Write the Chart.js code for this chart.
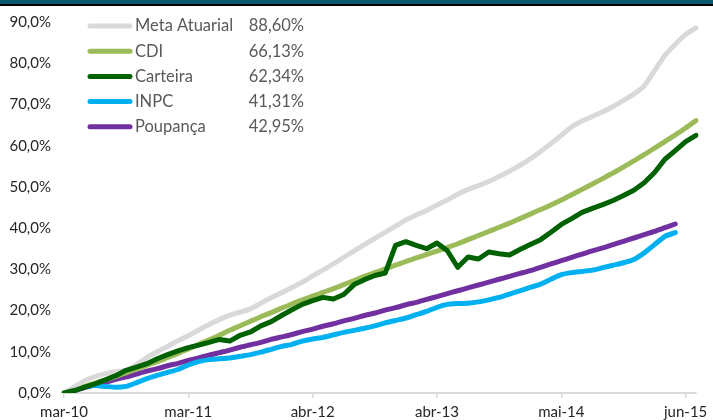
<!DOCTYPE html>
<html>
<head>
<meta charset="utf-8">
<script src="https://cdn.jsdelivr.net/npm/chart.js@4.4.1/dist/chart.umd.min.js"></script>
<style>
html, body { margin: 0; padding: 0; background: #fff; }
#wrap { position: relative; width: 713px; height: 420px; }
#topbar { position: absolute; left: 0; top: 0; width: 713px; height: 4px; background: #0b5a71; border-bottom: 2px solid #000; }
</style>
</head>
<body>
<div id="wrap">
  <canvas id="myChart" width="713" height="420"></canvas>
  <div id="topbar"></div>
</div>
<script>
// rótulos do eixo x (um a cada 12 pontos)
const tickLabels = ['mar-10', 'mar-11', 'abr-12', 'abr-13', 'mai-14', 'jun-15'];
const pointsPerTick = 12;

const seriesNames = ['Meta Atuarial', 'CDI', 'Carteira', 'INPC', 'Poupança'];
const finalReturns = ['88,60%', '66,13%', '62,34%', '41,31%', '42,95%'];
const seriesColors = ['#d9d9d9', '#9bbb59', '#006100', '#00b0f0', '#7030a0'];

// rentabilidade acumulada (%)
const metaAtuarial = [
  0, 1.5, 3.0, 4.0, 4.7, 5.2, 5.5, 6.9, 8.6, 10.0,
  11.3, 12.7, 13.9, 15.3, 16.6, 17.8, 18.9, 19.6, 20.4, 21.8,
  23.1, 24.3, 25.6, 26.9, 28.4, 29.8, 31.3, 32.9, 34.5, 36.0,
  37.5, 39.0, 40.5, 42.0, 43.2, 44.3, 45.6, 46.8, 48.2, 49.4,
  50.3, 51.3, 52.5, 53.8, 55.2, 56.8, 58.6, 60.5, 62.5, 64.6,
  66.0, 67.1, 68.2, 69.5, 71.0, 72.5, 74.5, 78.2, 81.9, 84.6,
  87.0, 88.6
];
const cdi = [
  0, 0.8, 1.6, 2.4, 3.2, 4.0, 4.9, 5.8, 6.7, 7.6,
  8.6, 9.6, 10.7, 11.8, 12.9, 14.0, 15.2, 16.3, 17.4, 18.5,
  19.5, 20.6, 21.6, 22.6, 23.5, 24.4, 25.3, 26.3, 27.3, 28.3,
  29.2, 30.1, 31.0, 31.9, 32.8, 33.6, 34.4, 35.3, 36.2, 37.2,
  38.2, 39.2, 40.2, 41.2, 42.3, 43.4, 44.5, 45.6, 46.8, 48.1,
  49.4, 50.7, 52.0, 53.4, 54.8, 56.3, 57.8, 59.4, 61.0, 62.6,
  64.3, 66.1
];
const carteira = [
  0, 0.6, 1.4, 2.2, 3.2, 4.2, 5.5, 6.3, 7.1, 8.3,
  9.3, 10.2, 11.0, 11.6, 12.3, 13.0, 12.6, 14.0, 14.8, 16.3,
  17.3, 18.8, 20.2, 21.5, 22.4, 23.2, 22.8, 23.9, 26.3, 27.5,
  28.5, 29.1, 35.8, 36.7, 35.8, 35.0, 36.4, 34.5, 30.5, 33.0,
  32.5, 34.2, 33.8, 33.5, 34.8, 36.0, 37.2, 39.0, 40.9, 42.3,
  43.8, 44.8, 45.7, 46.7, 47.9, 49.2, 51.0, 53.5, 56.7, 58.8,
  61.0, 62.5
];
const inpc = [
  0, 1.0, 1.5, 1.8, 1.6, 1.4, 1.6, 2.5, 3.5, 4.3,
  5.0, 5.7, 6.8, 7.6, 8.1, 8.3, 8.5, 8.9, 9.3, 9.9,
  10.6, 11.3, 11.8, 12.6, 13.1, 13.5, 14.1, 14.7, 15.2, 15.7,
  16.3, 17.0, 17.6, 18.2, 19.0, 19.8, 20.8, 21.5, 21.7, 21.8,
  22.1, 22.6, 23.2, 24.0, 24.8, 25.6, 26.4, 27.6, 28.7, 29.2,
  29.5, 29.8, 30.4, 31.0, 31.6, 32.4, 34.0, 36.0, 38.0, 38.9,
  null, null
];
const poupanca = [
  0, 0.6, 1.3, 2.0, 2.6, 3.3, 3.9, 4.6, 5.3, 5.9,
  6.6, 7.2, 7.9, 8.5, 9.2, 9.8, 10.4, 11.1, 11.7, 12.3,
  13.0, 13.6, 14.2, 14.9, 15.5, 16.2, 16.8, 17.5, 18.1, 18.8,
  19.4, 20.1, 20.7, 21.4, 22.0, 22.7, 23.4, 24.1, 24.8, 25.5,
  26.2, 26.9, 27.6, 28.3, 29.0, 29.7, 30.5, 31.3, 32.1, 32.9,
  33.7, 34.5, 35.2, 36.0, 36.8, 37.6, 38.4, 39.2, 40.1, 41.0,
  null, null
];

const seriesData = [metaAtuarial, cdi, carteira, inpc, poupanca];

// categorias: só os pontos marcados recebem texto
const labels = metaAtuarial.map((v, i) => i % pointsPerTick === 0 ? (tickLabels[i / pointsPerTick] || '') : '');

// legenda desenhada dentro da área do gráfico
const insideLegend = {
  id: 'insideLegend',
  afterDatasetsDraw(chart) {
    const ctx = chart.ctx;
    ctx.save();
    ctx.font = '16.5px Lato';
    ctx.textBaseline = 'middle';
    ctx.lineCap = 'round';
    seriesNames.forEach((name, k) => {
      const y = 26 + k * 25.2;
      ctx.strokeStyle = seriesColors[k];
      ctx.lineWidth = 5;
      ctx.beginPath();
      ctx.moveTo(90, y);
      ctx.lineTo(130, y);
      ctx.stroke();
      ctx.fillStyle = '#595959';
      ctx.textAlign = 'left';
      ctx.fillText(name, 135, y);
      ctx.textAlign = 'right';
      ctx.fillText(finalReturns[k], 304, y);
    });
    ctx.restore();
  }
};

const ctx = document.getElementById('myChart');
const config = {
  type: 'line',
  data: {
    labels: labels,
    datasets: seriesNames.map((name, k) => ({
      label: name,
      data: seriesData[k],
      borderColor: seriesColors[k],
      backgroundColor: seriesColors[k],
      borderWidth: 5,
      borderCapStyle: 'round',
      borderJoinStyle: 'round',
      pointRadius: 0,
      tension: name === 'Carteira' ? 0 : 0.2,
      order: name === 'Carteira' ? 0 : 1
    }))
  },
  options: {
    responsive: false,
    animation: false,
    layout: { padding: { top: 18, right: 17, bottom: 0, left: 0 } },
    plugins: {
      legend: { display: false },
      tooltip: { enabled: false }
    },
    scales: {
      x: {
        type: 'category',
        offset: false,
        afterBuildTicks: scale => { scale.ticks = scale.ticks.filter(t => labels[t.value] !== ''); },
        afterFit: scale => { scale.height = 27; },
        grid: { drawOnChartArea: false, drawTicks: true, tickLength: 5, color: '#d9d9d9', lineWidth: 1.5 },
        border: { display: true, color: '#d9d9d9', width: 2 },
        ticks: {
          autoSkip: false,
          maxRotation: 0,
          padding: 5,
          color: '#262626',
          font: { family: 'Lato', size: 15 }
        }
      },
      y: {
        min: 0,
        max: 90,
        afterFit: scale => { scale.width = 64; },
        grid: { display: false, drawTicks: false },
        border: { display: false },
        ticks: {
          stepSize: 10,
          padding: 13,
          color: '#262626',
          font: { family: 'Lato', size: 15 },
          callback: v => v.toFixed(1).replace('.', ',') + '%'
        }
      }
    }
  },
  plugins: [insideLegend]
};
const myChart = new Chart(ctx, config);
</script>
</body>
</html>
